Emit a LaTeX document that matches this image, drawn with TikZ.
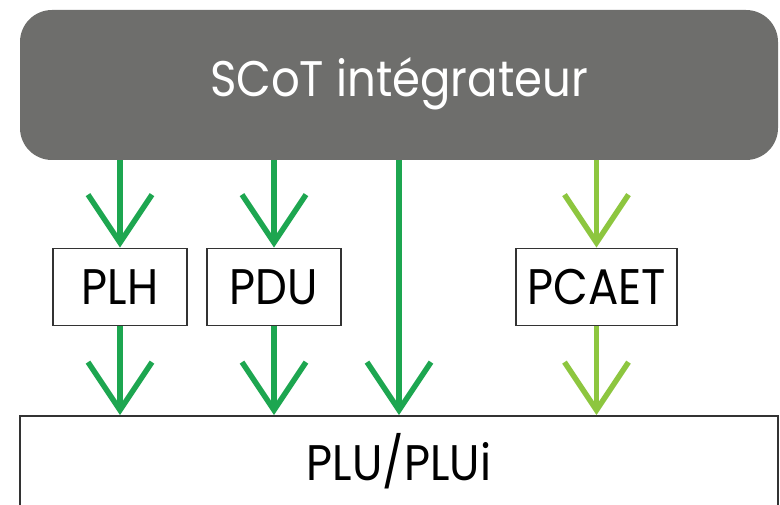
\documentclass[tikz,border=0pt]{standalone}
\usepackage{fontspec}
\setmainfont{Poppins}
\usetikzlibrary{arrows.meta}
\definecolor{scotgrey}{HTML}{6E6E6C}
\definecolor{darkgreen}{HTML}{1DA650}
\definecolor{lightgreen}{HTML}{8DC63F}
\definecolor{boxline}{HTML}{333333}
\newcommand{\narrow}[1]{\scalebox{0.9}[1]{#1}}
\tikzset{
  labelfont/.style={font=\fontsize{50}{50}\selectfont},
  docbox/.style={draw=boxline, line width=1.8pt, fill=white, inner sep=0pt,
    labelfont, text height=35pt, text depth=0pt},
  flow/.style={line width=5.5pt,
    -{Straight Barb[length=48pt,width=64pt,line width=5.5pt]}},
}
\begin{document}
\begin{tikzpicture}[x=1pt,y=-1pt]
\useasboundingbox (0,0) rectangle (780,505);
% integrating SCoT
\node[fill=scotgrey, rounded corners=32pt, minimum width=758pt, minimum height=150pt,
  inner sep=0pt, text=white, labelfont, text height=35pt, text depth=11pt]
  (scot) at (399,85) {\narrow{SCoT intégrateur}};
% sector documents
\node[docbox, minimum width=134pt, minimum height=77pt] (plh) at (120,287) {\narrow{PLH}};
\node[docbox, minimum width=134pt, minimum height=77pt] (pdu) at (274,287) {\narrow{PDU}};
\node[docbox, minimum width=161pt, minimum height=77pt] (pcaet) at (596.5,287) {\narrow{PCAET}};
% local urban plan
\node[docbox, minimum width=758pt, minimum height=93pt] (plu) at (399,462.5) {\narrow{PLU/PLUi}};
% links
\draw[flow, darkgreen] (plh.north |- scot.south) -- (plh.north);
\draw[flow, darkgreen] (pdu.north |- scot.south) -- (pdu.north);
\draw[flow, lightgreen] (pcaet.north |- scot.south) -- (pcaet.north);
\draw[flow, darkgreen] (plh.south) -- (plh.south |- plu.north);
\draw[flow, darkgreen] (pdu.south) -- (pdu.south |- plu.north);
\draw[flow, darkgreen] (scot.south) -- (scot.south |- plu.north);
\draw[flow, lightgreen] (pcaet.south) -- (pcaet.south |- plu.north);
\end{tikzpicture}
\end{document}
